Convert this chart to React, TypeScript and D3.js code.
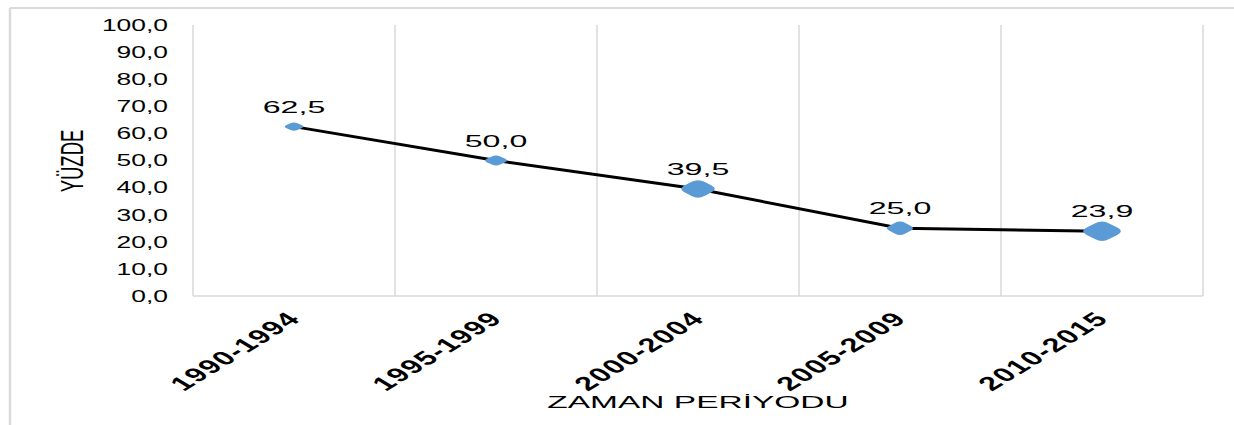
import React from "react";
import * as d3 from "d3";

const categories = ["1990-1994", "1995-1999", "2000-2004", "2005-2009", "2010-2015"];
const values = [62.5, 50.0, 39.5, 25.0, 23.9];
const yTicks = [0, 10, 20, 30, 40, 50, 60, 70, 80, 90, 100];
const yTitle = "YÜZDE";
const xTitle = "ZAMAN PERİYODU";

// marker shapes (style): width, height per point
const markerW = [22, 26, 40, 31, 45];
const markerH = [10, 12, 21, 16, 23];

const W = 1234;
const H = 425;
const M = { left: 193, right: 1203, top: 25, bottom: 296 };
const FONT = "'Liberation Sans', Arial, sans-serif";
const GRID = "#d9d9d9";
const BLUE = "#5B9BD5";

const locale = d3.formatLocale({ decimal: ",", thousands: ".", grouping: [3], currency: ["", ""] });
const fmt = locale.format(".1f");

function roundedDiamond(cx: number, cy: number, w: number, h: number, t = 0.32) {
  const pts: [number, number][] = [
    [cx - w / 2, cy],
    [cx, cy - h / 2],
    [cx + w / 2, cy],
    [cx, cy + h / 2],
  ];
  const p = d3.path();
  const n = pts.length;
  for (let i = 0; i < n; i++) {
    const P = pts[i];
    const A = pts[(i - 1 + n) % n];
    const C = pts[(i + 1) % n];
    const s: [number, number] = [P[0] + t * (A[0] - P[0]), P[1] + t * (A[1] - P[1])];
    const e: [number, number] = [P[0] + t * (C[0] - P[0]), P[1] + t * (C[1] - P[1])];
    if (i === 0) p.moveTo(s[0], s[1]);
    else p.lineTo(s[0], s[1]);
    p.quadraticCurveTo(P[0], P[1], e[0], e[1]);
  }
  p.closePath();
  return p.toString();
}

export default function App() {
  const x = d3.scaleBand<string>().domain(categories).range([M.left, M.right]);
  const y = d3.scaleLinear().domain([0, 100]).range([M.bottom, M.top]);
  const cx = (c: string) => (x(c) as number) + x.bandwidth() / 2;
  const pts = categories.map((c, i) => [cx(c), y(values[i])] as [number, number]);
  const line = d3.line<[number, number]>()(pts) as string;
  const bounds = [...categories.map((c) => x(c) as number), M.right];

  return (
    <svg width={W} height={H} style={{ position: "absolute", left: 0, top: 0, background: "#fff" }} fontFamily={FONT}>
      {/* outer chart border */}
      <line x1={10} y1={8} x2={W} y2={8} stroke={GRID} strokeWidth={2} />
      <line x1={10} y1={8} x2={10} y2={H} stroke={GRID} strokeWidth={2.5} />

      {/* vertical gridlines */}
      {bounds.map((b, i) => (
        <line key={i} x1={b} x2={b} y1={M.top} y2={M.bottom} stroke={GRID} strokeWidth={1.5} />
      ))}
      <line x1={M.left} x2={M.right} y1={M.bottom} y2={M.bottom} stroke={GRID} strokeWidth={1.5} />

      {/* y tick labels */}
      {yTicks.map((t) => (
        <g key={t} transform={`translate(168,${y(t)}) scale(1.62,1)`}>
          <text textAnchor="end" dy="0.36em" fontSize={16.3} fill="#000">
            {fmt(t)}
          </text>
        </g>
      ))}

      {/* y title */}
      <g transform={`translate(83,161) scale(1.7,1) rotate(-90)`}>
        <text textAnchor="middle" fontSize={18.5} fill="#000">
          {yTitle}
        </text>
      </g>

      {/* x tick labels */}
      {categories.map((c) => (
        <g key={c} transform={`translate(${cx(c) + 8},${320}) scale(1.65,1) rotate(-45)`}>
          <text textAnchor="end" fontSize={19.5} letterSpacing={0.9} fontWeight="bold" fill="#000">
            {c}
          </text>
        </g>
      ))}

      {/* x title */}
      <g transform={`translate(${(M.left + M.right) / 2},408) scale(1.97,1)`}>
        <text textAnchor="middle" fontSize={17} fill="#000">
          {xTitle}
        </text>
      </g>

      {/* line */}
      <path d={line} fill="none" stroke="#000" strokeWidth={3} />

      {/* markers */}
      {pts.map((p, i) => (
        <path key={i} d={roundedDiamond(p[0], p[1], markerW[i], markerH[i])} fill={BLUE} />
      ))}

      {/* data labels */}
      {pts.map((p, i) => (
        <g key={i} transform={`translate(${p[0]},${p[1] - 14}) scale(1.97,1)`}>
          <text textAnchor="middle" fontSize={16.3} fill="#000">
            {fmt(values[i])}
          </text>
        </g>
      ))}
    </svg>
  );
}
